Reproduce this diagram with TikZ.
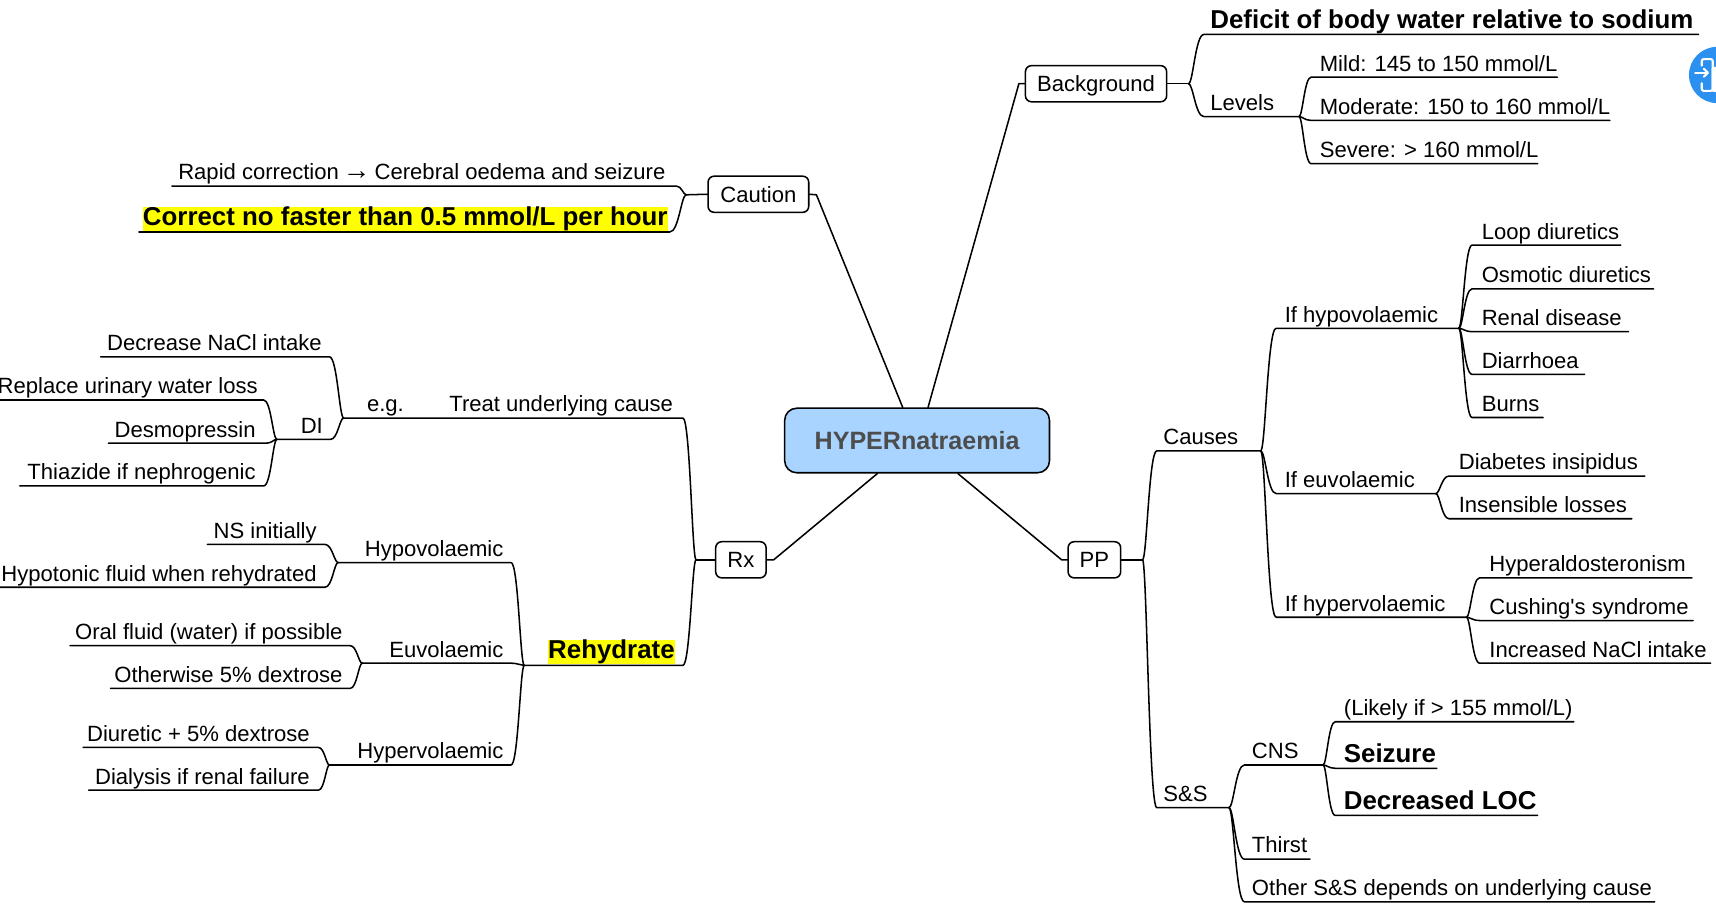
\documentclass[tikz,border=0pt]{standalone}
\usepackage{fontspec}
\setmainfont{Liberation Sans}
\newfontfamily\plainfam{Liberation Sans}
\usetikzlibrary{calc}
\definecolor{rootfill}{HTML}{A8D4FF}
\definecolor{roottext}{HTML}{4D4D4D}
\definecolor{iconblue}{HTML}{2B90EF}
\definecolor{hlyellow}{HTML}{FFFF00}
\newcommand{\fsn}{\fontsize{16.55}{19}\selectfont}
\newcommand{\fsb}{\fontsize{19.4}{23}\selectfont\bfseries}
\newcommand{\fsr}{\fontsize{18.8}{23}\selectfont\bfseries\color{roottext}}
\newcommand{\hltext}[1]{\rule[-5pt]{0pt}{1pt}{\setlength{\fboxsep}{0pt}\colorbox{hlyellow}{\rule[-4.3pt]{0pt}{18.2pt}#1}}}
\tikzset{
  link/.style={draw=black,line width=1.15pt,line join=round,line cap=round},
  leaftext/.style={inner sep=0pt,outer sep=0pt,text=black},
  topicbox/.style={draw=black,line width=1.15pt,rounded corners=4.5pt,fill=white,inner sep=0pt,font=\fsn,minimum height=27.1pt,text height=11.8pt,text depth=0pt},
  rootbox/.style={draw=black,line width=1.15pt,rounded corners=9pt,fill=rootfill,inner sep=0pt,font=\fsr,minimum width=198.6pt,minimum height=48.4pt}
}
% right-hand leaf: name, line start, text start, line end, line y, font, text
\newcommand{\rleaf}[7]{%
  \pgfmathsetlengthmacro\leafw{(#4-#2)*0.8208pt}%
  \pgfmathsetlengthmacro\leafp{(#3-#2)*0.8208pt}%
  \node[leaftext,anchor=south west] (#1) at (#2,#5) {\makebox[\leafw][l]{\hspace{\leafp}\rule[-4.6pt]{0pt}{1pt}#6#7}};}
% left-hand leaf: name, line start, text end, line end, line y, font, text
\newcommand{\lleaf}[7]{%
  \pgfmathsetlengthmacro\leafw{(#4-#2)*0.8208pt}%
  \pgfmathsetlengthmacro\leafp{(#4-#3)*0.8208pt}%
  \node[leaftext,anchor=south west] (#1) at (#2,#5) {\makebox[\leafw][r]{\rule[-4.6pt]{0pt}{1pt}#6#7\hspace{\leafp}}};}
% curved branch from a junction to the near end of a leaf, then along its underline
\newcommand{\linkto}[3]{%
  \draw[link] let \p1=(#1),\p2=(#2),\p3=($(#1)!.3!(#2)$),\p4=($(#1)!.45!(#2)$) in
    (\p1) .. controls (\x3,\y1) and (\x4,\y2) .. (\p2) -- (#3);}
\begin{document}
\begin{tikzpicture}[x=0.8208pt,y=-0.8208pt]
\useasboundingbox (0,0) rectangle (1568,842.5);
% root and topics
\node[rootbox] (root) at (838,402.5) {HYPERnatraemia};
\node[topicbox,minimum width=105.9pt] (background) at (1001.5,76.5) {Background};
\node[topicbox,minimum width=75.5pt] (caution) at (693,177.5) {Caution};
\node[topicbox,minimum width=37.8pt] (rx) at (677,511.5) {Rx};
\node[topicbox,minimum width=39.4pt] (pp) at (1000,511.5) {PP};
\coordinate (kcaution) at (746,178);
\coordinate (kback) at (931,76.5);
\coordinate (krx) at (707,511.5);
\coordinate (kpp) at (970,511.5);
\draw[link] ($(root.north west)!.446!(root.north east)$) -- (kcaution) -- (caution.east);
\draw[link] ($(root.north west)!.541!(root.north east)$) -- (kback) -- (background.west);
\draw[link] ($(root.south west)!.351!(root.south east)$) -- (krx) -- (rx.east);
\draw[link] ($(root.south west)!.653!(root.south east)$) -- (kpp) -- (pp.west);
% forks
\coordinate (fback) at (1086,76.5);
\coordinate (fcaution) at (627,178);
\coordinate (frx) at (636,511.5);
\coordinate (fpp) at (1044,511.5);
\draw[link] (background.east) -- (fback);
\draw[link] (caution.west) -- (fcaution);
\draw[link] (rx.west) -- (frx);
\draw[link] (pp.east) -- (fpp);
% Background
\rleaf{deficit}{1100}{1106}{1552}{31.5}{\fsb}{Deficit of body water relative to sodium}
\rleaf{levels}{1100}{1106}{1187}{106.5}{\fsn}{Levels}
\rleaf{mild}{1198}{1206}{1423}{70.5}{\fsn}{Mild: 145 to 150 mmol/L}
\rleaf{moderate}{1198}{1206}{1471}{110}{\fsn}{Moderate: 150 to 160 mmol/L}
\rleaf{severe}{1198}{1206}{1405}{149.5}{\fsn}{Severe: > 160 mmol/L}
\linkto{fback}{deficit.south west}{deficit.south east}
\linkto{fback}{levels.south west}{levels.south east}
\linkto{levels.south east}{mild.south west}{mild.south east}
\linkto{levels.south east}{moderate.south west}{moderate.south east}
\linkto{levels.south east}{severe.south west}{severe.south east}
% PP
\rleaf{causes}{1057}{1063}{1152}{412}{\fsn}{Causes}
\rleaf{sands}{1057}{1063}{1123}{738}{\fsn}{S\&S}
\linkto{fpp}{causes.south west}{causes.south east}
\linkto{fpp}{sands.south west}{sands.south east}
\rleaf{hypo}{1166}{1174}{1333}{300}{\fsn}{If hypovolaemic}
\rleaf{euvo}{1166}{1174}{1312}{451}{\fsn}{If euvolaemic}
\rleaf{hyper}{1166}{1174}{1340}{564}{\fsn}{If hypervolaemic}
\linkto{causes.south east}{hypo.south west}{hypo.south east}
\linkto{causes.south east}{euvo.south west}{euvo.south east}
\linkto{causes.south east}{hyper.south west}{hyper.south east}
\rleaf{loop}{1345}{1354}{1481}{224}{\fsn}{Loop diuretics}
\rleaf{osmotic}{1345}{1354}{1511}{264}{\fsn}{Osmotic diuretics}
\rleaf{renal}{1345}{1354}{1488}{303}{\fsn}{Renal disease}
\rleaf{diarrhoea}{1345}{1354}{1448}{342}{\fsn}{Diarrhoea}
\rleaf{burns}{1345}{1354}{1410}{381.5}{\fsn}{Burns}
\linkto{hypo.south east}{loop.south west}{loop.south east}
\linkto{hypo.south east}{osmotic.south west}{osmotic.south east}
\linkto{hypo.south east}{renal.south west}{renal.south east}
\linkto{hypo.south east}{diarrhoea.south west}{diarrhoea.south east}
\linkto{hypo.south east}{burns.south west}{burns.south east}
\rleaf{diabetes}{1324}{1333}{1503}{435}{\fsn}{Diabetes insipidus}
\rleaf{insensible}{1324}{1333}{1491}{474}{\fsn}{Insensible losses}
\linkto{euvo.south east}{diabetes.south west}{diabetes.south east}
\linkto{euvo.south east}{insensible.south west}{insensible.south east}
\rleaf{aldo}{1352}{1361}{1546}{528}{\fsn}{Hyperaldosteronism}
\rleaf{cushing}{1352}{1361}{1547}{567}{\fsn}{Cushing{\plainfam '}s syndrome}
\rleaf{nacl}{1352}{1361}{1563}{606}{\fsn}{Increased NaCl intake}
\linkto{hyper.south east}{aldo.south west}{aldo.south east}
\linkto{hyper.south east}{cushing.south west}{cushing.south east}
\linkto{hyper.south east}{nacl.south west}{nacl.south east}
\rleaf{cns}{1137}{1144}{1209}{699}{\fsn}{CNS}
\rleaf{thirst}{1137}{1144}{1197}{785}{\fsn}{Thirst}
\rleaf{other}{1137}{1144}{1512}{824}{\fsn}{Other S\&S depends on underlying cause}
\linkto{sands.south east}{cns.south west}{cns.south east}
\linkto{sands.south east}{thirst.south west}{thirst.south east}
\linkto{sands.south east}{other.south west}{other.south east}
\rleaf{likely}{1220}{1228}{1438}{659.5}{\fsn}{(Likely if > 155 mmol/L)}
\rleaf{seizure}{1220}{1228}{1313}{702}{\fsb}{Seizure}
\rleaf{loc}{1220}{1228}{1405}{745}{\fsb}{Decreased LOC}
\linkto{cns.south east}{likely.south west}{likely.south east}
\linkto{cns.south east}{seizure.south west}{seizure.south east}
\linkto{cns.south east}{loc.south west}{loc.south east}
% Caution
\lleaf{rapid}{157}{608}{618}{170}{\fsn}{Rapid correction \kern-1.6pt{\fontsize{20.8}{20}\selectfont →}\kern-1.6pt{} Cerebral oedema and seizure}
\lleaf{correct}{127}{610}{612}{212}{\fsb}{\hltext{Correct no faster than 0.5 mmol/L per hour}}
\linkto{fcaution}{rapid.south east}{rapid.south west}
\linkto{fcaution}{correct.south east}{correct.south west}
% Rx
\lleaf{treat}{403}{615}{624}{382}{\fsn}{Treat underlying cause}
\lleaf{eg}{314}{369}{403}{382}{\fsn}{e.g.}
\lleaf{rehydrate}{479}{616.5}{624}{608}{\fsb}{\hltext{Rehydrate}}
\linkto{frx}{treat.south east}{eg.south west}
\linkto{frx}{rehydrate.south east}{rehydrate.south west}
\lleaf{di}{253}{295}{302}{401.5}{\fsn}{DI}
\lleaf{decrease}{92}{294}{301}{326}{\fsn}{Decrease NaCl intake}
\linkto{eg.south west}{decrease.south east}{decrease.south west}
\linkto{eg.south west}{di.south east}{di.south west}
\lleaf{replace}{0}{235.5}{241}{365.5}{\fsn}{Replace urinary water loss}
\lleaf{desmo}{99}{233.6}{243}{405}{\fsn}{Desmopressin}
\lleaf{thiazide}{18}{233.6}{241}{444}{\fsn}{Thiazide if nephrogenic}
\linkto{di.south west}{replace.south east}{replace.south west}
\linkto{di.south west}{desmo.south east}{desmo.south west}
\linkto{di.south west}{thiazide.south east}{thiazide.south west}
\lleaf{hypov}{309}{460}{467}{514}{\fsn}{Hypovolaemic}
\lleaf{euv}{331}{460}{467}{606}{\fsn}{Euvolaemic}
\lleaf{hyperv}{301}{460}{467}{699}{\fsn}{Hypervolaemic}
\linkto{rehydrate.south west}{hypov.south east}{hypov.south west}
\linkto{rehydrate.south west}{euv.south east}{euv.south west}
\linkto{rehydrate.south west}{hyperv.south east}{hyperv.south west}
\lleaf{ns}{189.5}{289.4}{297}{497.5}{\fsn}{NS initially}
\lleaf{hypotonic}{0}{289.4}{297}{536.6}{\fsn}{Hypotonic fluid when rehydrated}
\linkto{hypov.south west}{ns.south east}{ns.south west}
\linkto{hypov.south west}{hypotonic.south east}{hypotonic.south west}
\lleaf{oral}{64}{313}{320}{590}{\fsn}{Oral fluid (water) if possible}
\lleaf{otherwise}{101}{313}{320}{629}{\fsn}{Otherwise 5\% dextrose}
\linkto{euv.south west}{oral.south east}{oral.south west}
\linkto{euv.south west}{otherwise.south east}{otherwise.south west}
\lleaf{diuretic}{76}{283}{291}{683}{\fsn}{Diuretic + 5\% dextrose}
\lleaf{dialysis}{81}{283}{291}{722}{\fsn}{Dialysis if renal failure}
\linkto{hyperv.south west}{diuretic.south east}{diuretic.south west}
\linkto{hyperv.south west}{dialysis.south east}{dialysis.south west}
% screen icon at the right edge
\fill[iconblue] (1569,68.5) circle[radius=25.7];
\draw[white,line width=1.6pt,line cap=round,line join=round,rounded corners=1.5pt]
  (1555,60) -- (1555,54) -- (1565,54) -- (1565,83) -- (1555,83) -- (1555,76);
\draw[white,line width=1.6pt,line cap=round] (1549,66.5) -- (1560,66.5);
\draw[white,line width=1.6pt,line cap=round,line join=round] (1557,63) -- (1560.5,66.5) -- (1557,70);
\fill[white,rounded corners=1.5pt] (1564,61) rectangle (1572,84);
\end{tikzpicture}
\end{document}
